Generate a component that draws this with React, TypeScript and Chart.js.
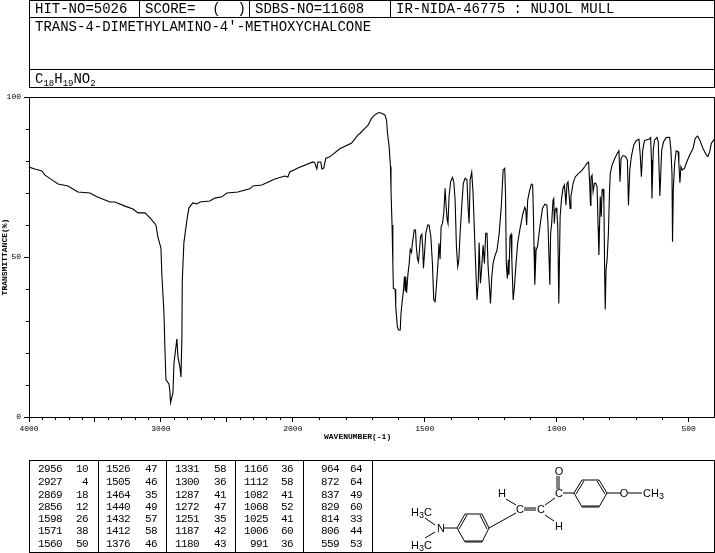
import React, { useEffect, useRef } from "react";
import { Chart, registerables, LinearScale } from "chart.js";

const spectrumWave = [
  4000, 3955, 3902, 3879, 3826, 3780, 3705, 3629, 3538, 3485, 3386, 3348, 3273, 3212, 3174, 3121, 3083, 3038, 3023, 3000,
  2992, 2977, 2970, 2962, 2939, 2932, 2927, 2909, 2901, 2879, 2871, 2856, 2848, 2841, 2838, 2826, 2803, 2788, 2758, 2727,
  2704, 2629, 2591, 2538, 2500, 2417, 2326, 2303, 2235, 2136, 2061, 2038, 2023, 1981, 1924, 1917, 1909, 1905, 1894, 1890,
  1883, 1875, 1860, 1822, 1777, 1754, 1746, 1727, 1715, 1702, 1689, 1677, 1668, 1651, 1645, 1641, 1635, 1630, 1628, 1624,
  1621, 1619, 1612, 1610, 1604, 1600, 1593, 1590, 1585, 1581, 1577, 1574, 1572, 1569, 1564, 1559, 1555, 1550, 1547, 1540,
  1535, 1532, 1528, 1524, 1520, 1516, 1511, 1508, 1505, 1501, 1496, 1489, 1484, 1477, 1471, 1466, 1461, 1456, 1450, 1446,
  1442, 1438, 1433, 1428, 1423, 1419, 1415, 1412, 1408, 1402, 1395, 1390, 1385, 1380, 1375, 1371, 1366, 1360, 1354, 1347,
  1340, 1336, 1332, 1328, 1322, 1317, 1312, 1307, 1302, 1297, 1294, 1289, 1284, 1279, 1274, 1269, 1264, 1260, 1254, 1251,
  1246, 1241, 1235, 1226, 1218, 1210, 1203, 1197, 1194, 1191, 1187, 1183, 1181, 1177, 1173, 1170, 1165, 1160, 1155, 1148,
  1140, 1134, 1128, 1121, 1117, 1114, 1110, 1102, 1096, 1091, 1088, 1086, 1083, 1078, 1073, 1068, 1062, 1054, 1045, 1037,
  1033, 1030, 1026, 1023, 1019, 1014, 1011, 1009, 1006, 1002, 999, 996, 992, 987, 982, 976, 971, 967, 965, 961,
  957, 953, 949, 946, 938, 929, 919, 906, 894, 885, 879, 875, 872, 870, 866, 862, 857, 852, 847, 843,
  840, 837, 835, 831, 828, 824, 821, 818, 816, 813, 809, 804, 800, 797, 790, 780, 770, 764, 760, 756,
  749, 739, 732, 728, 723, 717, 708, 698, 688, 683, 679, 674, 667, 650, 644, 641, 639, 634, 629, 620,
  615, 609, 602, 595, 585, 572, 567, 563, 561, 558, 553, 547, 540, 537, 533, 529, 524, 516, 509, 496,
  483, 475, 466, 458, 446, 433, 427, 420, 414, 405, 400,
];

const spectrumT = [
  78.1, 77.5, 76.9, 75.6, 74.1, 72.8, 72.2, 70.3, 70.0, 68.8, 67.2, 67.2, 65.9, 65.0, 63.8, 63.8, 62.2, 60.0, 56.3, 52.8,
  43.8, 32.5, 21.9, 11.6, 10.3, 8.0, 4.5, 7.5, 16.9, 24.4, 18.8, 15.6, 12.5, 25.0, 42.8, 54.4, 61.6, 65.3, 66.9, 66.6,
  67.2, 67.5, 68.4, 68.8, 70.0, 70.3, 71.3, 72.2, 72.5, 74.4, 75.3, 75.0, 76.6, 77.8, 79.7, 79.4, 77.5, 79.7, 79.7, 77.5,
  77.8, 80.9, 81.3, 83.8, 85.6, 88.1, 88.6, 90.2, 91.2, 93.3, 94.4, 95.1, 95.1, 94.4, 92.8, 88.6, 84.5, 78.2, 71.0, 60.0,
  48.0, 40.2, 39.9, 34.5, 28.2, 27.2, 27.2, 32.4, 36.6, 39.2, 43.9, 39.5, 43.9, 38.8, 44.4, 48.0, 52.4, 51.4, 54.3, 58.4,
  58.4, 53.2, 49.6, 48.5, 52.2, 56.4, 57.1, 53.2, 46.5, 51.1, 57.4, 60.0, 60.0, 56.4, 48.0, 36.6, 36.0, 40.7, 48.0, 54.3,
  49.3, 59.5, 60.5, 63.6, 71.5, 65.7, 61.6, 60.5, 68.9, 73.5, 74.9, 73.5, 67.8, 53.2, 47.0, 49.1, 57.4, 65.7, 73.0, 74.6,
  74.1, 65.7, 60.5, 74.1, 76.5, 69.9, 58.4, 47.0, 36.6, 42.8, 54.5, 41.8, 47.0, 53.7, 48.0, 57.4, 57.4, 47.0, 39.7, 35.5,
  43.9, 48.0, 50.1, 52.2, 57.4, 65.7, 77.2, 77.7, 69.9, 48.0, 43.3, 49.1, 44.4, 56.4, 57.1, 49.1, 36.6, 40.7, 47.0, 54.3,
  58.4, 61.0, 63.6, 65.5, 64.7, 60.0, 67.8, 71.0, 72.8, 72.5, 62.6, 53.2, 41.3, 52.2, 53.2, 56.4, 60.5, 65.2, 66.5, 66.2,
  60.5, 52.2, 41.3, 57.4, 60.5, 67.8, 68.3, 60.5, 64.7, 65.2, 63.6, 59.5, 35.5, 62.6, 67.8, 71.5, 72.5, 68.9, 66.2, 73.0,
  73.5, 69.4, 65.2, 68.9, 73.0, 75.1, 76.0, 76.9, 78.2, 79.3, 79.6, 73.0, 66.2, 74.9, 75.6, 70.4, 73.0, 73.0, 72.0, 59.5,
  50.6, 61.6, 68.9, 62.6, 71.0, 71.2, 66.8, 43.9, 33.6, 46.0, 49.1, 57.4, 69.9, 76.1, 78.7, 80.8, 82.4, 83.2, 73.5, 80.8,
  81.7, 81.4, 80.3, 66.2, 77.2, 81.4, 85.0, 86.4, 86.8, 81.4, 75.1, 83.4, 86.4, 86.8, 87.3, 80.3, 68.3, 83.4, 86.6, 87.4,
  86.0, 69.1, 83.4, 86.0, 87.3, 87.4, 83.4, 76.1, 54.8, 71.0, 79.3, 83.2, 82.9, 79.3, 73.2, 78.2, 77.2, 77.7, 79.3, 81.9,
  84.0, 87.1, 87.8, 86.6, 84.0, 81.9, 81.4, 82.9, 85.5, 86.6, 86.8,
];

const xMajorTicks = [4000, 3500, 3000, 2500, 2000, 1500, 1000, 500];
const xUnlabelled = [3500, 2500];
const xMinorTicks = [
  3900, 3800, 3700, 3600, 3400, 3300, 3200, 3100, 2900, 2800, 2700, 2600, 2400, 2300, 2200, 2100,
  1900, 1800, 1700, 1600, 1400, 1300, 1200, 1100, 900, 800, 700, 600,
];
const yMajorTicks = [0, 50, 100];
const yMinorTicks = [10, 20, 30, 40, 60, 70, 80, 90];

const hitNo = "HIT-NO=5026";
const score = "SCORE=  (  )";
const sdbsNo = "SDBS-NO=11608";
const irLabel = "IR-NIDA-46775 : NUJOL MULL";
const compound = "TRANS-4-DIMETHYLAMINO-4'-METHOXYCHALCONE";

const peakWave1 = [2956, 2927, 2869, 2856, 1598, 1571, 1560];
const peakT1 = [10, 4, 18, 12, 26, 38, 50];
const peakWave2 = [1526, 1505, 1464, 1440, 1432, 1412, 1376];
const peakT2 = [47, 46, 35, 49, 57, 58, 46];
const peakWave3 = [1331, 1300, 1287, 1272, 1251, 1187, 1180];
const peakT3 = [58, 36, 41, 47, 35, 42, 43];
const peakWave4 = [1166, 1112, 1082, 1068, 1025, 1006, 991];
const peakT4 = [36, 58, 41, 52, 41, 60, 36];
const peakWave5 = [964, 872, 837, 829, 814, 806, 559];
const peakT5 = [64, 64, 49, 60, 33, 44, 53];

class BrokenWaveScale extends LinearScale {
  static id = "brokenWave";
  static defaults = LinearScale.defaults;
  getPixelForValue(v: number) {
    const units = v >= 2000 ? (4000 - v) / 2 : 1000 + (2000 - v);
    return this.left + (units / 2600) * (this.right - this.left);
  }
  getValueForPixel(p: number) {
    const units = ((p - this.left) / (this.right - this.left)) * 2600;
    return units <= 1000 ? 4000 - units * 2 : 2000 - (units - 1000);
  }
}

Chart.register(...registerables, BrokenWaveScale);

const MONO = "'Liberation Mono', monospace";

const frameAndMinorTicks = {
  id: "frameAndMinorTicks",
  afterDraw(chart: any) {
    const { ctx, chartArea: a, scales } = chart;
    ctx.save();
    ctx.strokeStyle = "#000";
    ctx.lineWidth = 1;
    ctx.strokeRect(a.left + 0.5, a.top + 0.5, a.right - a.left - 1, a.bottom - a.top);
    ctx.beginPath();
    for (const v of xMinorTicks) {
      const x = Math.round(scales.x.getPixelForValue(v)) + 0.5;
      ctx.moveTo(x, a.bottom);
      ctx.lineTo(x, a.bottom + 3);
    }
    for (const v of yMinorTicks) {
      const y = Math.round(scales.y.getPixelForValue(v)) + 0.5;
      ctx.moveTo(a.left, y);
      ctx.lineTo(a.left - 3, y);
    }
    ctx.stroke();
    ctx.restore();
  },
};

const peakColumns = [
  { wave: peakWave1, t: peakT1, waveEnd: 62, tEnd: 88 },
  { wave: peakWave2, t: peakT2, waveEnd: 130, tEnd: 157 },
  { wave: peakWave3, t: peakT3, waveEnd: 199, tEnd: 226 },
  { wave: peakWave4, t: peakT4, waveEnd: 268, tEnd: 293 },
  { wave: peakWave5, t: peakT5, waveEnd: 339, tEnd: 362 },
];
const rowY = [472, 485, 498, 510, 522, 534, 547];

const bondLines: number[][] = [
  [457, 528, 465, 514], [459, 529, 467, 515], [465, 514, 482, 514], [482, 514, 489, 528], [480, 515, 487, 529],
  [489, 528, 482, 542], [482, 542, 465, 542], [482, 541, 465, 541], [465, 542, 457, 528],
  [574, 493, 582, 480], [576, 494, 584, 481], [582, 480, 599, 480], [599, 480, 607, 493], [597, 481, 605, 494],
  [607, 493, 599, 507], [599, 507, 582, 507], [599, 506, 582, 506], [582, 507, 574, 493],
  [444, 528, 457, 528], [435, 525, 425, 518], [435, 532, 425, 538],
  [489, 528, 516, 513], [524, 508, 536, 508], [524, 510, 536, 510],
  [506, 499, 516, 505], [545, 515, 554, 521], [545, 505, 555, 498],
  [557, 476, 557, 489], [559, 476, 559, 489], [563, 493, 574, 493],
  [607, 493, 621, 493], [628, 493, 642, 493],
];
const atomLabels: [string, number, number][] = [
  ["N", 441, 532], ["C", 520, 513], ["C", 541, 513], ["H", 502, 497], ["H", 559, 530],
  ["C", 559, 497], ["O", 559, 475], ["O", 624, 497],
];

export default function App() {
  const ref = useRef<HTMLCanvasElement>(null);
  useEffect(() => {
    document.body.style.margin = "0";
    const chart = new Chart(ref.current!, {
      type: "line",
      data: {
        datasets: [
          {
            data: spectrumWave.map((x, i) => ({ x, y: spectrumT[i] })),
            borderColor: "#000",
            borderWidth: 1.1,
            pointRadius: 0,
            tension: 0,
            fill: false,
          },
        ],
      },
      options: {
        responsive: false,
        animation: false,
        devicePixelRatio: 1,
        layout: { autoPadding: false, padding: { top: 97, left: 0, right: 0, bottom: 111 } },
        plugins: { legend: { display: false }, tooltip: { enabled: false } },
        scales: {
          x: {
            type: "brokenWave",
            min: 400,
            max: 4000,
            afterBuildTicks: (s: any) => {
              s.ticks = xMajorTicks.map((value) => ({ value }));
            },
            afterFit: (s: any) => {
              s.height = 25;
            },
            grid: { drawOnChartArea: false, tickLength: 5, color: "#000" },
            border: { display: true, color: "#000" },
            ticks: {
              autoSkip: false,
              maxRotation: 0,
              padding: 2,
              color: "#000",
              font: { family: MONO, size: 8 },
              callback: (v: any) => (xUnlabelled.includes(Number(v)) ? "" : String(v)),
            },
            title: {
              display: true,
              text: "WAVENUMBER(-1)      ",
              color: "#000",
              padding: 0,
              font: { family: MONO, size: 8, weight: "bold" },
            },
          },
          y: {
            type: "linear",
            min: 0,
            max: 100,
            afterBuildTicks: (s: any) => {
              s.ticks = yMajorTicks.map((value) => ({ value }));
            },
            afterFit: (s: any) => {
              s.width = 29;
            },
            grid: { drawOnChartArea: false, tickLength: 5, color: "#000" },
            border: { display: true, color: "#000" },
            ticks: {
              padding: 3,
              color: "#000",
              font: { family: MONO, size: 8 },
              callback: (v: any) => String(v),
            },
            title: {
              display: true,
              text: "TRANSMITTANCE(%)",
              color: "#000",
              padding: 0,
              font: { family: MONO, size: 8, weight: "bold" },
            },
          },
        },
      } as any,
      plugins: [frameAndMinorTicks],
    } as any);
    return () => chart.destroy();
  }, []);

  const head = { fontFamily: MONO, fontSize: 14, fill: "#000" } as const;
  const cell = { fontFamily: MONO, fontSize: 11, letterSpacing: -0.6, fill: "#000", textAnchor: "end" } as const;
  const atom = { fontFamily: "'Liberation Sans', sans-serif", fontSize: 11, fill: "#000", textAnchor: "middle" } as const;
  const sub = { fontSize: 9 };

  return (
    <div style={{ position: "absolute", left: 0, top: 0, width: 715, height: 553, background: "#fff" }}>
      <canvas ref={ref} width={715} height={553} style={{ position: "absolute", left: 0, top: 0 }} />
      <svg width={715} height={553} style={{ position: "absolute", left: 0, top: 0 }}>
        <g stroke="#000" strokeWidth={1} fill="none" shapeRendering="crispEdges">
          <rect x={29.5} y={0.5} width={685} height={87} />
          <line x1={29} y1={17.5} x2={715} y2={17.5} />
          <line x1={29} y1={69.5} x2={715} y2={69.5} />
          <line x1={139.5} y1={0} x2={139.5} y2={17} />
          <line x1={249.5} y1={0} x2={249.5} y2={17} />
          <line x1={390.5} y1={0} x2={390.5} y2={17} />
          <rect x={29.5} y={460.5} width={685} height={92} />
          {[98.5, 166.5, 235.5, 303.5, 372.5].map((x) => (
            <line key={x} x1={x} y1={460} x2={x} y2={552} />
          ))}
        </g>
        <text x={35} y={13} style={head}>{hitNo}</text>
        <text x={145} y={13} style={{ ...head, whiteSpace: "pre" }} xmlSpace="preserve">{score}</text>
        <text x={255} y={13} style={head}>{sdbsNo}</text>
        <text x={396} y={13} style={head}>{irLabel}</text>
        <text x={35} y={31} style={head}>{compound}</text>
        <text x={35} y={83} style={head}>
          C<tspan dy={3} style={sub}>18</tspan>
          <tspan dy={-3}>H</tspan>
          <tspan dy={3} style={sub}>19</tspan>
          <tspan dy={-3}>NO</tspan>
          <tspan dy={3} style={sub}>2</tspan>
        </text>
        {peakColumns.map((c) =>
          c.wave.map((w, i) => (
            <g key={`${w}`}>
              <text x={c.waveEnd} y={rowY[i]} style={cell}>{w}</text>
              <text x={c.tEnd} y={rowY[i]} style={cell}>{c.t[i]}</text>
            </g>
          ))
        )}
        <g stroke="#000" strokeWidth={1}>
          {bondLines.map((b, i) => (
            <line key={i} x1={b[0]} y1={b[1]} x2={b[2]} y2={b[3]} />
          ))}
        </g>
        {atomLabels.map(([t, x, y], i) => (
          <text key={i} x={x} y={y} style={atom}>{t}</text>
        ))}
        <text x={411} y={516} style={{ ...atom, textAnchor: "start" }}>
          H<tspan dy={2} style={sub}>3</tspan><tspan dy={-2}>C</tspan>
        </text>
        <text x={411} y={549} style={{ ...atom, textAnchor: "start" }}>
          H<tspan dy={2} style={sub}>3</tspan><tspan dy={-2}>C</tspan>
        </text>
        <text x={643} y={497} style={{ ...atom, textAnchor: "start" }}>
          CH<tspan dy={2} style={sub}>3</tspan>
        </text>
      </svg>
    </div>
  );
}
